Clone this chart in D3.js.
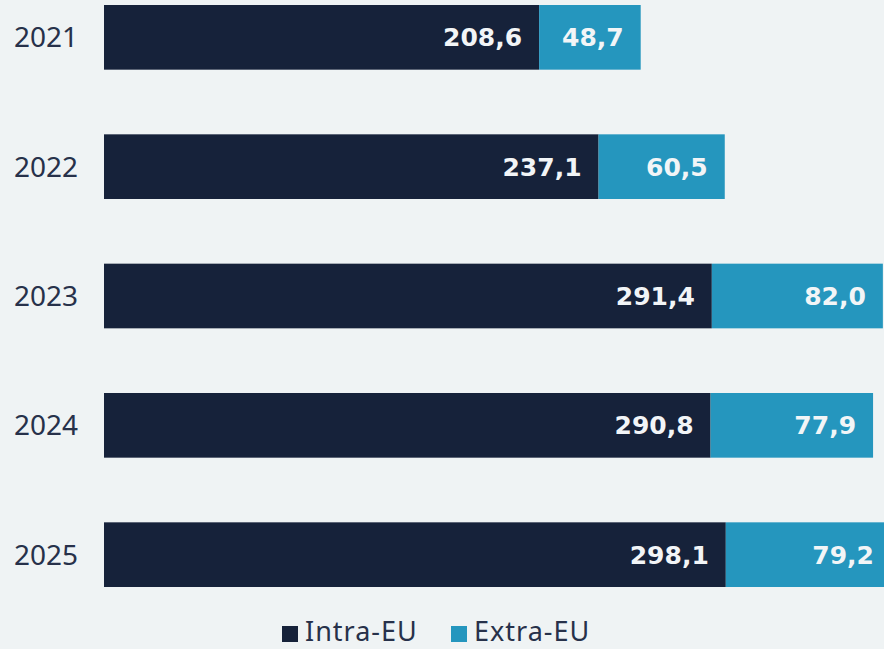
<!DOCTYPE html>
<html>
<head>
  <meta charset="utf-8" />
  <title>Intra-EU / Extra-EU</title>
  <style>
    body { margin:0; background:#eff3f4; }
    svg { display:block; }
    .year { fill:#27314a; font-family:"Noto Sans", sans-serif; font-size:28px; }
    .val { fill:#f2f5f7; font-family:"DejaVu Sans", sans-serif; font-size:25px; font-weight:bold; }
    .legend text { fill:#27314a; font-family:"Noto Sans", sans-serif; font-size:27px; letter-spacing:1px; }
  </style>
</head>
<body>
  <div id="container"></div>
  <script src="https://cdnjs.cloudflare.com/ajax/libs/d3/7.8.5/d3.min.js"></script>
  <script>
// data
const years = ["2021", "2022", "2023", "2024", "2025"];
const intraEU = [208.6, 237.1, 291.4, 290.8, 298.1];
const extraEU = [48.7, 60.5, 82.0, 77.9, 79.2];
const seriesNames = ["Intra-EU", "Extra-EU"];
const colors = ["#16223a", "#2596be"];

const w = 884, h = 649;

const rows = years.map((y, i) => ({ year: y, "Intra-EU": intraEU[i], "Extra-EU": extraEU[i] }));
const stacked = d3.stack().keys(seriesNames)(rows);

const fmt = d3.formatLocale({ decimal: ",", thousands: ".", grouping: [3], currency: ["", "€"] }).format(".1f");

const x = d3.scaleLinear()
  .domain([0, d3.max(rows, d => d["Intra-EU"] + d["Extra-EU"])])
  .range([104, 891]);   // last bar runs past the right edge, as in the original

const y = d3.scaleBand()
  .domain(years)
  .range([5, 587])
  .paddingInner(0.5)
  .paddingOuter(0);

const svg = d3.select("#container").append("svg")
  .attr("width", w)
  .attr("height", h);

svg.append("rect").attr("width", w).attr("height", h).attr("fill", "#eff3f4");

// bars
const layer = svg.selectAll("g.layer")
  .data(stacked)
  .join("g")
  .attr("class", "layer")
  .attr("fill", (d, i) => colors[i]);

layer.selectAll("rect")
  .data(d => d)
  .join("rect")
  .attr("x", d => x(d[0]))
  .attr("y", d => y(d.data.year))
  .attr("width", d => x(d[1]) - x(d[0]))
  .attr("height", y.bandwidth());

// value labels, right aligned inside each segment
layer.selectAll("text")
  .data(d => d)
  .join("text")
  .attr("class", "val")
  .attr("text-anchor", "end")
  .attr("x", d => x(d[1]) - 17)
  .attr("y", d => y(d.data.year) + y.bandwidth() / 2 + 9)
  .text(d => fmt(d[1] - d[0]));

// year labels
svg.selectAll("text.year")
  .data(years)
  .join("text")
  .attr("class", "year")
  .attr("text-anchor", "end")
  .attr("x", 78)
  .attr("y", d => y(d) + y.bandwidth() / 2 + 10)
  .text(d => d);

// legend
const legend = svg.append("g")
  .attr("class", "legend")
  .attr("transform", "translate(282,626)");

const item = legend.selectAll("g")
  .data(seriesNames)
  .join("g")
  .attr("transform", (d, i) => "translate(" + (i * 169) + ",0)");

item.append("rect")
  .attr("width", 16)
  .attr("height", 16)
  .attr("fill", (d, i) => colors[i]);

item.append("text")
  .attr("x", 23)
  .attr("y", 15)
  .text(d => d);
  </script>
</body>
</html>
